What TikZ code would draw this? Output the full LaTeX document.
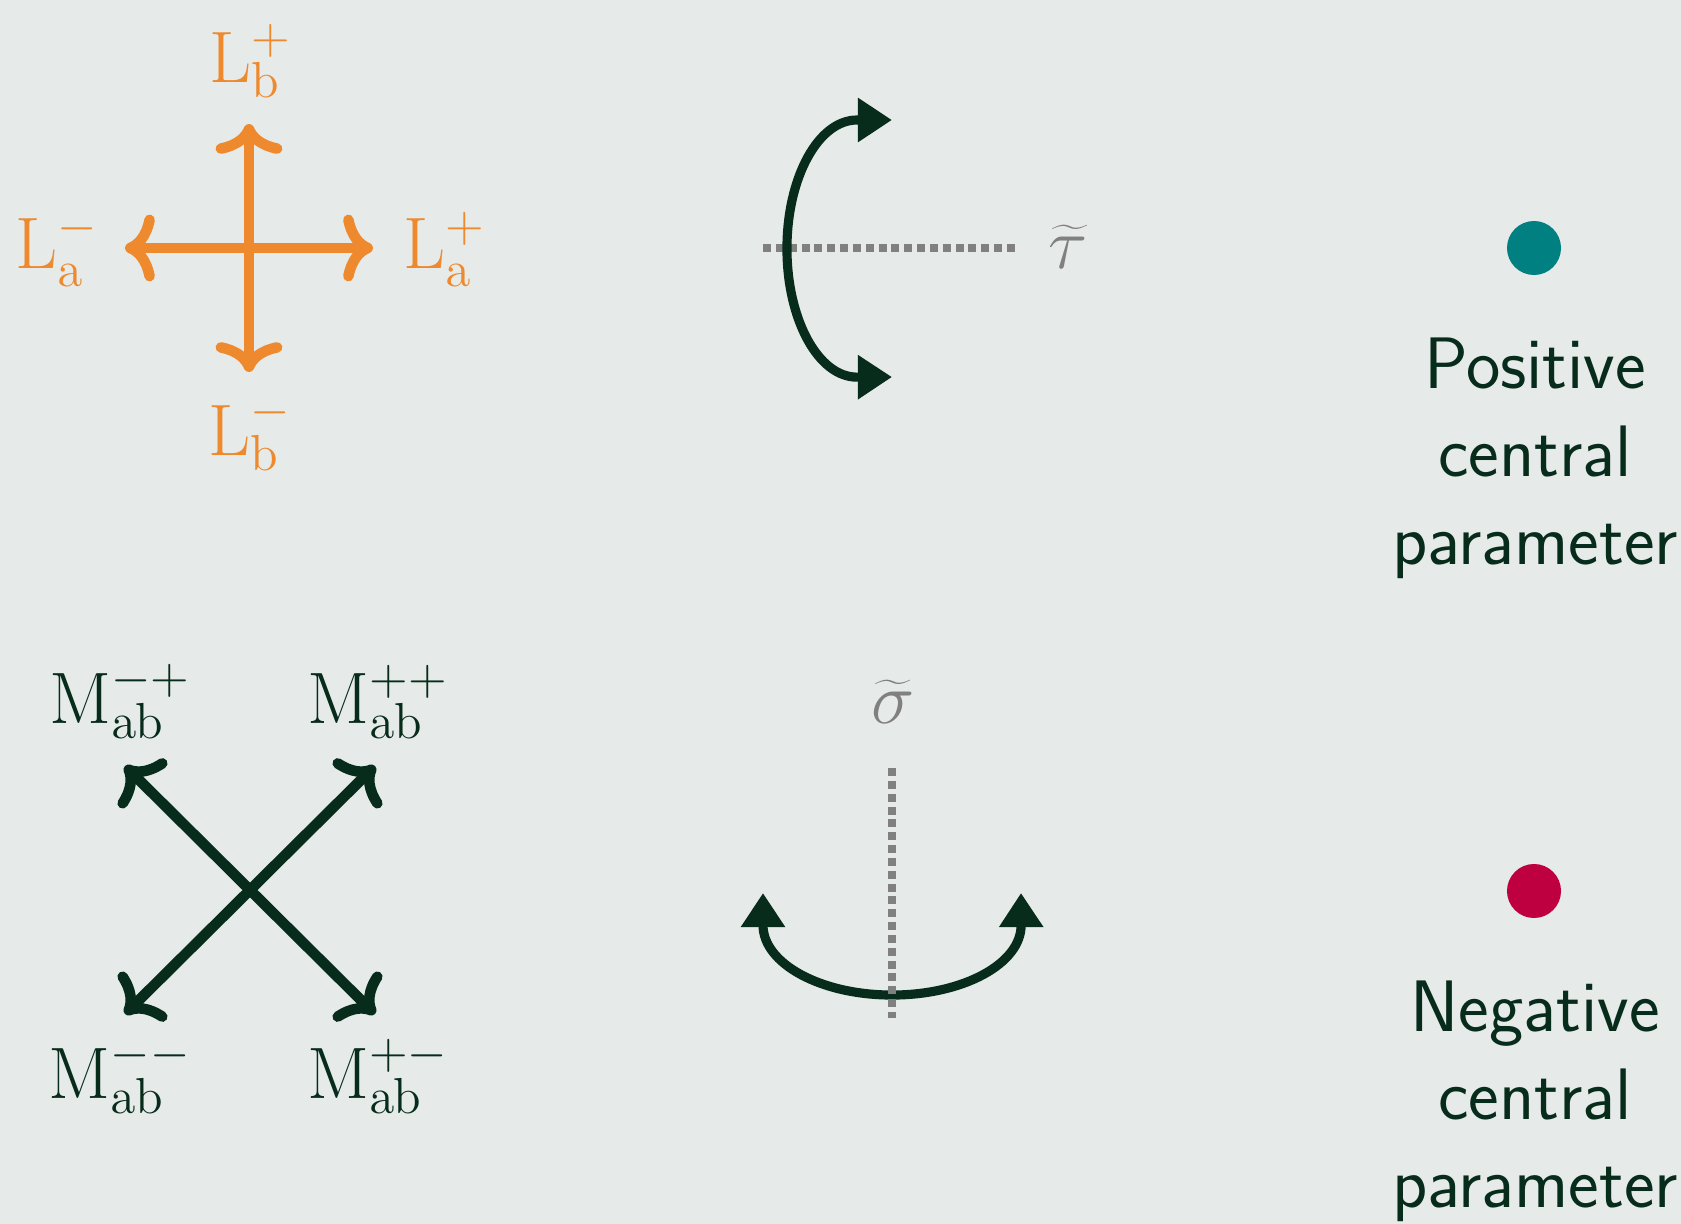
\documentclass[tikz,border=0pt]{standalone}
\usetikzlibrary{arrows.meta}
\definecolor{bg}{RGB}{230,234,232}
\definecolor{orng}{RGB}{238,137,46}
\definecolor{dgreen}{RGB}{7,44,28}
\definecolor{tealc}{RGB}{0,128,128}
\definecolor{redc}{RGB}{191,0,64}
\definecolor{grayc}{RGB}{128,128,128}
\tikzset{
  lbl/.style={font=\huge, inner sep=0pt, anchor=base},
  cmarrows/.style={line width=3pt, line cap=round,
    {Computer Modern Rightarrow[length=8.5pt,width=19pt,round]}-{Computer Modern Rightarrow[length=8.5pt,width=19pt,round]}},
  trarrows/.style={line width=2.6pt,
    {Triangle[length=9.7pt,width=12pt]}-{Triangle[length=9.7pt,width=12pt]}},
  dotline/.style={grayc, line width=2.3pt, dash pattern=on 2.3pt off 1.35pt},
  dot/.style={circle, inner sep=0pt, minimum size=0.54cm},
  txt/.style={font=\huge\sffamily, text=dgreen, align=center, anchor=north, inner sep=0pt}
}
\begin{document}
\begin{tikzpicture}[x=0.01cm,y=-0.01cm]
\fill[bg] (0,0) rectangle (1681,1224);
\useasboundingbox (0,0) rectangle (1681,1224);

% orange cross
\coordinate (oc) at (249,248);
\coordinate (oR) at (373,248);
\coordinate (oL) at (125,248);
\coordinate (oU) at (249,124);
\coordinate (oD) at (249,372);
\draw[orng, cmarrows] (oL) -- (oR);
\draw[orng, cmarrows] (oU) -- (oD);
\node[lbl, text=orng] (Lbp) at (251,82) {$\mathrm{L}_{\mathrm{b}}^{+}$};
\node[lbl, text=orng] (Lam) at (57,268) {$\mathrm{L}_{\mathrm{a}}^{-}$};
\node[lbl, text=orng] (Lap) at (445,268) {$\mathrm{L}_{\mathrm{a}}^{+}$};
\node[lbl, text=orng] (Lbm) at (250,455) {$\mathrm{L}_{\mathrm{b}}^{-}$};

% M cross
\coordinate (mUL) at (125,766);
\coordinate (mUR) at (375,766);
\coordinate (mDL) at (125,1014);
\coordinate (mDR) at (375,1014);
\draw[dgreen, cmarrows] (mUL) -- (mDR);
\draw[dgreen, cmarrows] (mUR) -- (mDL);
\node[lbl, text=dgreen] (Mmp) at (120,723) {$\mathrm{M}_{\mathrm{ab}}^{-+}$};
\node[lbl, text=dgreen] (Mpp) at (378,723) {$\mathrm{M}_{\mathrm{ab}}^{++}$};
\node[lbl, text=dgreen] (Mmm) at (120,1098) {$\mathrm{M}_{\mathrm{ab}}^{--}$};
\node[lbl, text=dgreen] (Mpm) at (378,1098) {$\mathrm{M}_{\mathrm{ab}}^{+-}$};

% tau
\node[lbl, text=grayc] (tau) at (1068,268) {$\widetilde{\tau}$};
\coordinate (tdA) at (763,248);
\coordinate (tdB) at (1017,248);
\draw[dotline] (tdA) -- (tdB);
\coordinate (tT) at (892,120);
\coordinate (tB) at (892,377);
\draw[dgreen, trarrows] (tT) -- (857,120) arc[start angle=90, end angle=270, x radius=0.7cm, y radius=1.285cm] -- (tB);

% sigma
\node[lbl, text=grayc] (sig) at (893,723) {$\widetilde{\sigma}$};
\coordinate (sL) at (763,893);
\coordinate (sR) at (1021,893);
\draw[dgreen, trarrows] (sL) -- (763,925) arc[start angle=180, end angle=360, x radius=1.29cm, y radius=0.7cm] -- (sR);
\coordinate (sdA) at (892,768);
\coordinate (sdB) at (892,1018);
\draw[dotline] (sdA) -- (sdB);

% legend
\node[dot, fill=tealc] (pdot) at (1534,248) {};
\node[txt] (ptxt) at (1535,337) {Positive\\central\\parameter};
\node[dot, fill=redc] (ndot) at (1534,891) {};
\node[txt] (ntxt) at (1535,980) {Negative\\central\\parameter};
\end{tikzpicture}
\end{document}
